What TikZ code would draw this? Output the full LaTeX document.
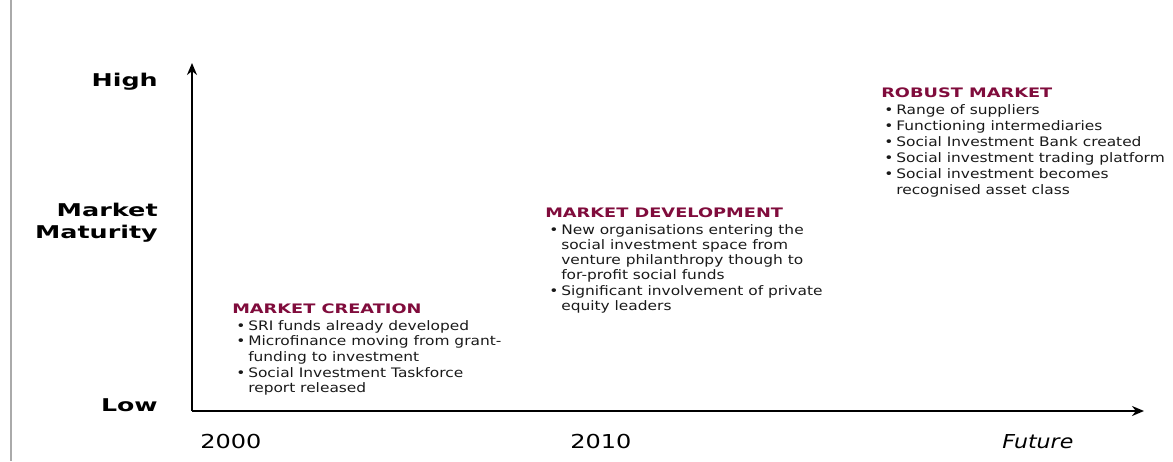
\documentclass[tikz,border=0pt]{standalone}
\usepackage{fontspec}
\usetikzlibrary{arrows.meta}
\setmainfont[FakeStretch=1.18]{DejaVu Sans}
\newfontfamily\headfont[FakeStretch=1.36]{DejaVu Sans}
\newfontfamily\axisfont[FakeStretch=1.35]{DejaVu Sans}
\newfontfamily\yearfont[FakeStretch=1.25]{DejaVu Sans}
\newfontfamily\futfont[FakeStretch=1.15]{DejaVu Sans}
\definecolor{maroon}{RGB}{128,12,60}
\definecolor{frame}{RGB}{170,170,170}
\newcommand{\blt}{\makebox[9pt][l]{•}}
\newcommand{\cnt}{\hspace*{9pt}}
\tikzset{
  axislabel/.style={anchor=base east,inner sep=0pt,font=\axisfont\bfseries\fontsize{13.2}{17}\selectfont},
  yearlabel/.style={anchor=base west,inner sep=0pt,font=\yearfont\fontsize{14.4}{17}\selectfont},
  heading/.style={anchor=base west,inner sep=0pt,text=maroon,font=\headfont\bfseries\fontsize{9.8}{12}\selectfont},
  bullets/.style={anchor=north west,inner sep=0pt,align=left,text=black!90,font=\fontsize{9.8}{11.75}\selectfont},
  axis/.style={line width=1.4pt,-{Stealth[length=9pt,width=7.5pt]}}
}
\begin{document}
\begin{tikzpicture}[x=0.75pt,y=-0.75pt]
\useasboundingbox (0,0) rectangle (1173,461);
\draw[frame,line width=1.1pt] (11,0) -- (11,461);
% axes
\coordinate (O) at (192,411);
\coordinate (ytip) at (192,63);
\coordinate (xtip) at (1144,411);
\draw[axis] (O) -- (ytip);
\draw[axis] (O) -- (xtip);
% axis labels
\node[axislabel] (high) at (158,86.5) {\scalebox{1.067}[1]{High}};
\node[axislabel] (market) at (158,216.5) {\scalebox{1.075}[1]{Market}};
\node[axislabel] (maturity) at (158,238.5) {\scalebox{1.07}[1]{Maturity}};
\node[axislabel] (low) at (158,411.5) {\scalebox{1.06}[1]{Low}};
% years
\node[yearlabel] (y2000) at (200,448) {2000};
\node[yearlabel] (y2010) at (570,448) {2010};
\node[yearlabel,font=\futfont\itshape\fontsize{14.4}{17}\selectfont] (future) at (1002,448) {Future};
% market creation
\node[heading] (mch) at (232,313) {MARKET CREATION};
\node[bullets] (mcb) at (236,320) {\blt SRI funds already developed\\
\blt Microfinance moving from grant-\\
\cnt funding to investment\\
\blt Social Investment Taskforce\\
\cnt report released};
% market development
\node[heading] (mdh) at (545,217) {MARKET DEVELOPMENT};
\node[bullets,font=\fontsize{9.8}{11.4}\selectfont] (mdb) at (549,224) {\blt New organisations entering the\\
\cnt social investment space from\\
\cnt venture philanthropy though to\\
\cnt for-profit social funds\\
\blt Significant involvement of private\\
\cnt equity leaders};
% robust market
\node[heading] (rmh) at (881,97.5) {ROBUST MARKET};
\node[bullets,font=\fontsize{9.8}{12}\selectfont] (rmb) at (884,104.5) {\blt Range of suppliers\\
\blt Functioning intermediaries\\
\blt Social Investment Bank created\\
\blt Social investment trading platform\\
\blt Social investment becomes\\
\cnt recognised asset class};
\end{tikzpicture}
\end{document}
